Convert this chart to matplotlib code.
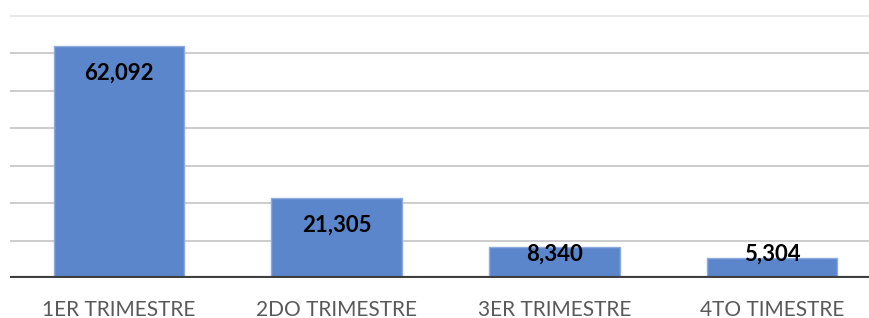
import matplotlib.pyplot as plt
import numpy as np

categories = ["1ER TRIMESTRE", "2DO TRIMESTRE", "3ER TRIMESTRE", "4TO TIMESTRE"]
values = [62092, 21305, 8340, 5304]
labels = ["62,092", "21,305", "8,340", "5,304"]

plt.rcParams["font.family"] = ["Lato", "DejaVu Sans"]

fig = plt.figure(figsize=(8.7, 3.18), dpi=100)
ax = fig.add_axes([10 / 870, 1 - 278 / 318, 871 / 870, (278 - 8.5) / 318])

x = np.arange(len(categories))
ax.bar(x, values, width=0.60, color="#5B86CC", edgecolor="#8FAADC",
       linewidth=1, zorder=2)

ax.set_xlim(-0.5, len(categories) - 0.5)
ax.set_ylim(0, 72000)
ax.set_yticks(np.arange(0, 70001, 10000))
ax.yaxis.grid(True, color="#c4c4c4", linewidth=1.2, zorder=0)
ax.set_axisbelow(True)
grid = ax.get_ygridlines()
grid[-1].set_color("#e4e4e4")
ax.tick_params(axis="y", left=False, labelleft=False)
ax.tick_params(axis="x", bottom=False, pad=12, labelsize=15,
               labelcolor="#595959")
ax.set_xticks(x)
ax.set_xticklabels(categories)
for s in ax.spines.values():
    s.set_visible(False)
ax.axhline(0, color="#3f3f3f", linewidth=3, zorder=3)

# labels sit inside the bar end, but not lower than a fixed floor
for xi, v, lab in zip(x, values, labels):
    y = max(v - 7300, 6400)
    ax.text(xi, y, lab, ha="center", va="center", fontsize=16,
            fontweight="bold", color="black", zorder=4)

fig.savefig("out.png", dpi=100)
